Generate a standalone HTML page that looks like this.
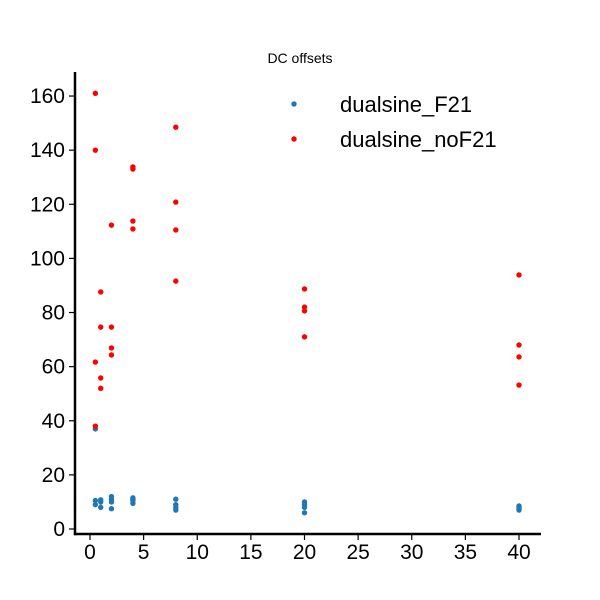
<!DOCTYPE html>
<html><head><meta charset="utf-8"><style>
html,body{margin:0;padding:0;background:#fff;}
svg{display:block;font-family:"Liberation Sans",Arial,sans-serif;}
</style></head><body>
<svg id="chart" width="600" height="600">
<text x="300" y="63" text-anchor="middle" font-size="14">DC offsets</text>
<g id="marks"></g>
<g id="axes"></g>
<g>
<circle cx="294" cy="104" r="2.7" fill="#1f77b4"></circle>
<text x="340" y="112" font-size="22">dualsine_F21</text>
<circle cx="294" cy="139" r="2.7" fill="#ff0000"></circle>
<text x="340" y="147" font-size="22">dualsine_noF21</text>
</g>
</svg>
<script>
const xTicks=[0,5,10,15,20,25,30,35,40];
const yTicks=[0,20,40,60,80,100,120,140,160];
const f21X=[0.5,0.5,0.5,1,1,1,2,2,2,2,4,4,4,4,8,8,8,8,20,20,20,20,40,40,40,40];
const f21Y=[37,10.5,9,10.8,10,8,12,11,10,7.5,11.5,11,10.5,9.5,11,9,8,7,10,9,8,6,8.5,8,7.5,7];
const noF21X=[0.5,0.5,0.5,0.5,1,1,1,1,2,2,2,2,4,4,4,4,8,8,8,8,20,20,20,20,40,40,40,40];
const noF21Y=[161,140,61.7,38,87.6,74.6,55.8,52,112.3,74.6,66.9,64.3,133.8,133,113.8,110.9,148.5,120.8,110.5,91.6,88.7,82,80.6,71,93.9,68,63.6,53.2];
const NS='http://www.w3.org/2000/svg';
const sx=v=>90+v*10.725;
const sy=v=>529-v*2.706;
const marks=document.getElementById('marks');
const axes=document.getElementById('axes');
function dots(xs,ys,color,name){
  xs.forEach((x,i)=>{
    const c=document.createElementNS(NS,'circle');
    c.setAttribute('cx',sx(x));c.setAttribute('cy',sy(ys[i]));c.setAttribute('r',2.7);c.setAttribute('fill',color);
    
    
    marks.appendChild(c);
  });
}
dots(f21X,f21Y,'#1f77b4','f21');
dots(noF21X,noF21Y,'#ff0000','nof21');
function line(x1,y1,x2,y2,w,name){
  const l=document.createElementNS(NS,'line');
  l.setAttribute('x1',x1);l.setAttribute('y1',y1);l.setAttribute('x2',x2);l.setAttribute('y2',y2);
  l.setAttribute('stroke','#000');l.setAttribute('stroke-width',w);
  
  
  axes.appendChild(l);
}
line(75,72,75,535.2,2.5,'y-axis-line');
line(73.8,534,541,534,2.5,'x-axis-line');
xTicks.forEach(t=>{
  line(sx(t),534,sx(t),540,1.2,'x-tick');
  const tx=document.createElementNS(NS,'text');
  tx.setAttribute('x',sx(t));tx.setAttribute('y',559);tx.setAttribute('text-anchor','middle');tx.setAttribute('font-size','21');
  tx.textContent=t;
  
  
  axes.appendChild(tx);
});
yTicks.forEach(t=>{
  line(69,sy(t),75,sy(t),1.2,'y-tick');
  const tx=document.createElementNS(NS,'text');
  tx.setAttribute('x',65);tx.setAttribute('y',sy(t)+7);tx.setAttribute('text-anchor','end');tx.setAttribute('font-size','21');
  tx.textContent=t;
  
  
  axes.appendChild(tx);
});
</script>
</body></html>
